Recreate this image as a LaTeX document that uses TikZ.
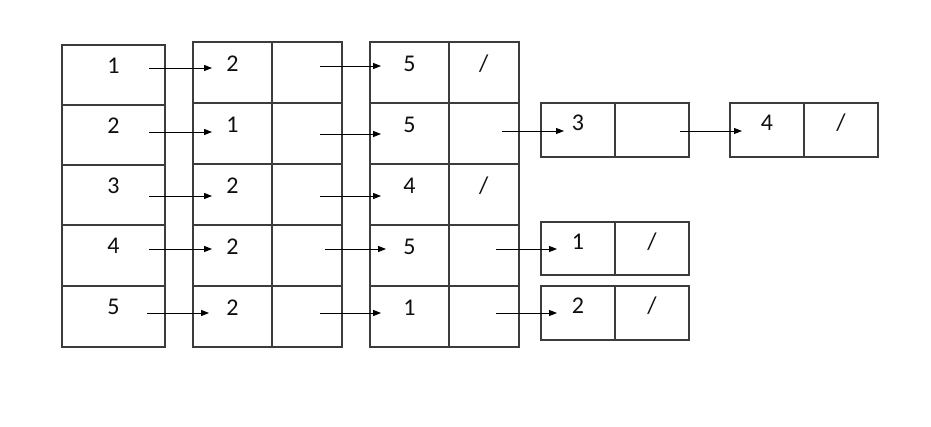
\documentclass[tikz,border=0pt]{standalone}
\usepackage{fontspec}
\setmainfont{Carlito}
\usetikzlibrary{arrows.meta,positioning}
\definecolor{cellline}{RGB}{60,60,60}
\definecolor{cellink}{RGB}{15,15,15}
\tikzset{
  cell/.style={draw=cellline, line width=1.6pt, inner sep=0pt, outer sep=0pt,
    text=cellink, font=\fontsize{24}{28}\selectfont},
  headcell/.style={cell, minimum width=103pt, text height=28.5pt, text depth=31.5pt},
  datacell/.style={cell, minimum width=78.7pt, text height=30pt, text depth=31pt},
  linkcell/.style={cell, minimum width=70.3pt, text height=30pt, text depth=31pt},
  extcell/.style={cell, minimum width=74pt, text height=28pt, text depth=26pt},
  ptrarrow/.style={-{Triangle[length=8pt,width=6pt]}, line width=0.9pt, black},
}

\begin{document}
\begin{tikzpicture}[x=1pt,y=-1pt]
  \useasboundingbox (0,0) rectangle (931,427);
  % head array
  \node[headcell, anchor=north west] (a1) at (62,45) {1};
  \node[headcell, below=0pt of a1] (a2) {2};
  \node[headcell, below=0pt of a2] (a3) {3};
  \node[headcell, below=0pt of a3, text depth=32.5pt] (a4) {4};
  \node[headcell, below=0pt of a4, text depth=32.5pt] (a5) {5};
  % first list nodes
  \node[datacell, anchor=north west] (b1) at (193,42) {2};
  \node[datacell, below=0pt of b1] (b2) {1};
  \node[datacell, below=0pt of b2] (b3) {2};
  \node[datacell, below=0pt of b3] (b4) {2};
  \node[datacell, below=0pt of b4] (b5) {2};
  \node[linkcell, right=0pt of b1] (bn1) {};
  \node[linkcell, right=0pt of b2] (bn2) {};
  \node[linkcell, right=0pt of b3] (bn3) {};
  \node[linkcell, right=0pt of b4] (bn4) {};
  \node[linkcell, right=0pt of b5] (bn5) {};
  % second list nodes
  \node[datacell, anchor=north west] (c1) at (370,42) {5};
  \node[datacell, below=0pt of c1] (c2) {5};
  \node[datacell, below=0pt of c2] (c3) {4};
  \node[datacell, below=0pt of c3] (c4) {5};
  \node[datacell, below=0pt of c4] (c5) {1};
  \node[linkcell, right=0pt of c1] (cn1) {/};
  \node[linkcell, right=0pt of c2] (cn2) {};
  \node[linkcell, right=0pt of c3] (cn3) {/};
  \node[linkcell, right=0pt of c4] (cn4) {};
  \node[linkcell, right=0pt of c5] (cn5) {};
  % tail nodes
  \node[extcell, anchor=north west] (d2) at (541,103) {3};
  \node[extcell, right=0pt of d2] (dn2) {};
  \node[extcell, anchor=north west] (e2) at (730,103) {4};
  \node[extcell, right=0pt of e2] (en2) {/};
  \node[extcell, anchor=north west, text depth=25pt] (d4) at (541,222) {1};
  \node[extcell, right=0pt of d4, text depth=25pt] (dn4) {/};
  \node[extcell, anchor=north west] (d5) at (541,286) {2};
  \node[extcell, right=0pt of d5] (dn5) {/};
  % pointers
  \draw[ptrarrow] ([xshift=35.5pt,yshift=-23pt]a1.north) -- ([xshift=-20.3pt,yshift=-26pt]b1.north);
  \draw[ptrarrow] ([xshift=35.5pt,yshift=-27pt]a2.north) -- ([xshift=-20.3pt,yshift=-29pt]b2.north);
  \draw[ptrarrow] ([xshift=35.5pt,yshift=-31pt]a3.north) -- ([xshift=-20.3pt,yshift=-32pt]b3.north);
  \draw[ptrarrow] ([xshift=35.5pt,yshift=-24pt]a4.north) -- ([xshift=-20.3pt,yshift=-24pt]b4.north);
  \draw[ptrarrow] ([xshift=33.5pt,yshift=-27pt]a5.north) -- ([xshift=-23.3pt,yshift=-27pt]b5.north);
  \draw[ptrarrow] ([xshift=13.2pt,yshift=-24pt]bn1.north) -- ([xshift=-28.3pt,yshift=-24pt]c1.north);
  \draw[ptrarrow] ([xshift=13.2pt,yshift=-31pt]bn2.north) -- ([xshift=-28.3pt,yshift=-31pt]c2.north);
  \draw[ptrarrow] ([xshift=13.2pt,yshift=-32pt]bn3.north) -- ([xshift=-28.3pt,yshift=-32pt]c3.north);
  \draw[ptrarrow] ([xshift=18.2pt,yshift=-24pt]bn4.north) -- ([xshift=-23.3pt,yshift=-24pt]c4.north);
  \draw[ptrarrow] ([xshift=13.2pt,yshift=-27pt]bn5.north) -- ([xshift=-28.3pt,yshift=-27pt]c5.north);
  \draw[ptrarrow] ([xshift=18.2pt,yshift=-28pt]cn2.north) -- ([xshift=-14pt,yshift=-28pt]d2.north);
  \draw[ptrarrow] ([xshift=28pt,yshift=-28pt]dn2.north) -- ([xshift=-25pt,yshift=-28pt]e2.north);
  \draw[ptrarrow] ([xshift=12.2pt,yshift=-24pt]cn4.north) -- ([xshift=-21pt,yshift=-27pt]d4.north);
  \draw[ptrarrow] ([xshift=12.2pt,yshift=-27pt]cn5.north) -- ([xshift=-21pt,yshift=-27pt]d5.north);
\end{tikzpicture}
\end{document}
